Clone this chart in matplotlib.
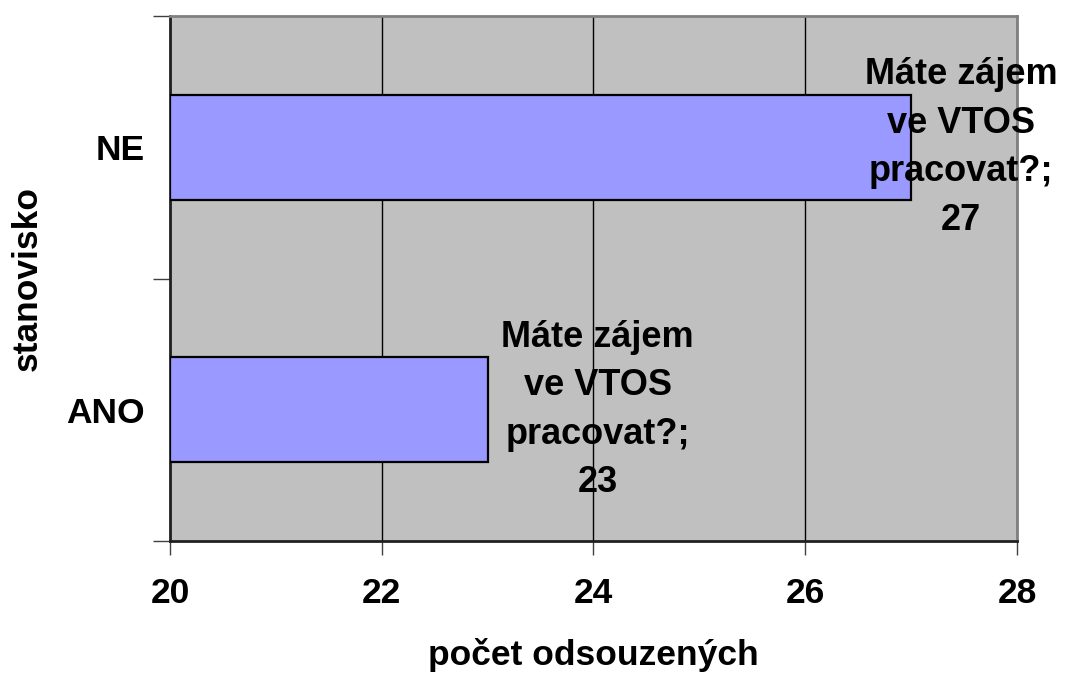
import matplotlib

matplotlib.use("Agg")
import matplotlib.pyplot as plt

# data
categories = ["ANO", "NE"]
counts = [23, 27]
series_name = "Máte zájem\nve VTOS\npracovat?;"
x_ticks = [20, 22, 24, 26, 28]

plt.rcParams["font.family"] = ["Liberation Sans", "DejaVu Sans"]
plt.rcParams["font.weight"] = "bold"

fig = plt.figure(figsize=(10.67, 6.73), dpi=100)
ax = fig.add_axes([0.1593, 0.196, 0.7938, 0.780])
ax.set_facecolor("#C0C0C0")

ypos = list(range(len(categories)))
ax.barh(ypos, [c - x_ticks[0] for c in counts], left=x_ticks[0], height=0.4,
        color="#9999FF", edgecolor="black", linewidth=1.6, zorder=3)

ax.set_xlim(x_ticks[0], x_ticks[-1])
ax.set_ylim(-0.5, len(categories) - 0.5)
ax.set_xticks(x_ticks)
ax.set_xticklabels([str(t) for t in x_ticks], fontsize=25.5, fontweight="bold")
ax.tick_params(axis="x", length=10, width=1, color="#404040", pad=16)

ax.set_yticks(ypos)
ax.set_yticklabels(categories, fontsize=25.5, fontweight="bold")
ax.set_yticks([y - 0.5 for y in range(len(categories) + 1)], minor=True)
ax.tick_params(axis="y", which="major", length=0, pad=18)
ax.tick_params(axis="y", which="minor", length=12, width=1, color="#404040")

ax.grid(axis="x", color="black", linewidth=1, zorder=1)
ax.set_axisbelow(True)

for side in ("top", "right"):
    ax.spines[side].set_color("#808080")
    ax.spines[side].set_linewidth(2)
for side in ("left", "bottom"):
    ax.spines[side].set_color("#202020")
    ax.spines[side].set_linewidth(2)

# data labels, Excel "outside end" style (the upper one is pushed back inside the chart)
offsets = [110, 50]
for y, c, off in zip(ypos, counts, offsets):
    ax.annotate(f"{series_name}\n{c}", xy=(c, y), xytext=(off, 0),
                textcoords="offset pixels", ha="center", va="center",
                fontsize=26, fontweight="bold", linespacing=1.5,
                annotation_clip=False, zorder=5)

ax.set_xlabel("počet odsouzených", fontsize=25.5, fontweight="bold", labelpad=20)
ax.set_ylabel("stanovisko", fontsize=25.5, fontweight="bold", labelpad=16)

fig.savefig("out.png", dpi=100)
